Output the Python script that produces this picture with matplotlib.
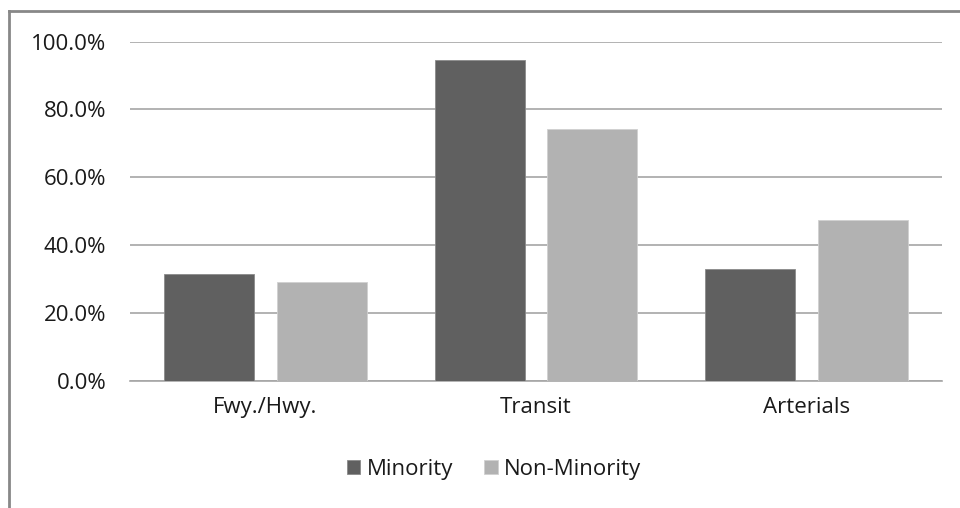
import matplotlib
matplotlib.use("Agg")
import matplotlib.pyplot as plt
from matplotlib.lines import Line2D
from matplotlib.ticker import FuncFormatter
import numpy as np

categories = ["Fwy./Hwy.", "Transit", "Arterials"]
minority = [31.5, 94.5, 32.9]
non_minority = [29.2, 74.1, 47.3]
series_names = ["Minority", "Non-Minority"]
y_ticks = [0, 20, 40, 60, 80, 100]

plt.rcParams["font.family"] = ["Open Sans", "DejaVu Sans"]

W, H = 960, 508
fig = plt.figure(figsize=(W / 100, H / 100), dpi=100)
fig.patch.set_facecolor("white")

# plot area in pixel coordinates
left, right, top, bottom = 130, 942, 41.5, 380.7
ax = fig.add_axes([left / W, 1 - bottom / H, (right - left) / W, (bottom - top) / H])

x = np.arange(len(categories))
bw = 0.333
off = 0.208
ax.bar(x - off, minority, width=bw, color="#606060", edgecolor="#8a8a8a",
       linewidth=0.6, zorder=3, label=series_names[0])
ax.bar(x + off, non_minority, width=bw, color="#b2b2b2", edgecolor="#d0d0d0",
       linewidth=0.6, zorder=3, label=series_names[1])

ax.set_xlim(-0.5, len(categories) - 0.5)
ax.set_ylim(0, 100)
ax.set_yticks(y_ticks)
ax.yaxis.set_major_formatter(FuncFormatter(lambda v, p: f"{v:.1f}%"))
ax.set_xticks(x)
ax.set_xticklabels(categories)
ax.grid(axis="y", color="#a6a6a6", linewidth=1.2, zorder=0)
for s in ["top", "right", "left"]:
    ax.spines[s].set_visible(False)
ax.spines["bottom"].set_color("#a6a6a6")
ax.spines["bottom"].set_linewidth(1.2)
ax.tick_params(axis="both", length=0, labelsize=16, colors="#1a1a1a")
ax.tick_params(axis="y", pad=17)
ax.tick_params(axis="x", pad=12)
ax.set_facecolor("white")

leg = fig.legend(loc="center", bbox_to_anchor=(494 / W, 1 - 469 / H), ncol=2,
                 frameon=False, fontsize=16, handlelength=0.6, handleheight=0.6,
                 handletextpad=0.3, columnspacing=1.4)
for t in leg.get_texts():
    t.set_color("#1a1a1a")

# outer chart frame (top and left edges)
fig.add_artist(Line2D([9 / W, 1.0], [1 - 11 / H, 1 - 11 / H], color="#888888",
                      linewidth=2, transform=fig.transFigure))
fig.add_artist(Line2D([9 / W, 9 / W], [0.0, 1 - 11 / H], color="#888888",
                      linewidth=2, transform=fig.transFigure))

fig.savefig("out.png", dpi=100, facecolor="white")
